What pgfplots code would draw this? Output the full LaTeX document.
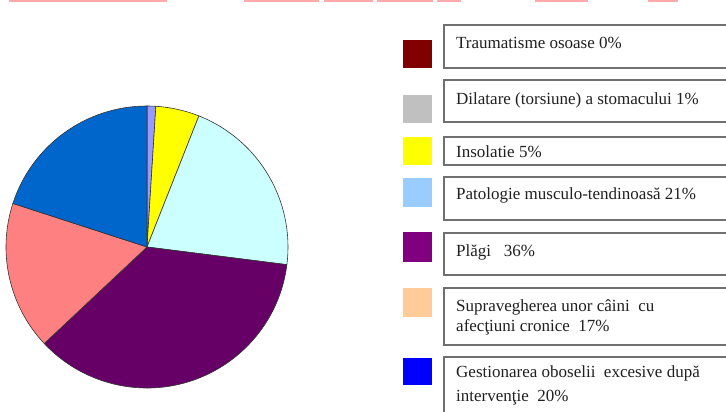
\documentclass[border=0pt]{standalone}
\usepackage{pgfplots}
\pgfplotsset{compat=1.18}
\usepackage{pgfplotstable}
\usepackage{fontspec}
\setmainfont{Liberation Serif}

% pie data (percent), in drawing order clockwise from 12 o'clock
\pgfplotstableread{
idx value
0 0
1 1
2 5
3 21
4 36
5 17
6 20
}\piedata

\definecolor{piecol0}{HTML}{800000}
\definecolor{piecol1}{HTML}{9999FF}
\definecolor{piecol2}{HTML}{FFFF00}
\definecolor{piecol3}{HTML}{CCFFFF}
\definecolor{piecol4}{HTML}{660066}
\definecolor{piecol5}{HTML}{FF8080}
\definecolor{piecol6}{HTML}{0066CC}

\definecolor{leg1}{HTML}{800000}
\definecolor{leg2}{HTML}{C0C0C0}
\definecolor{leg3}{HTML}{FFFF00}
\definecolor{leg4}{HTML}{99CCFF}
\definecolor{leg5}{HTML}{800080}
\definecolor{leg6}{HTML}{FFCC99}
\definecolor{leg7}{HTML}{0000FF}
\definecolor{boxgray}{HTML}{707070}
\definecolor{faintred}{HTML}{FFAAAA}
\definecolor{txt}{HTML}{202020}

\begin{document}
\begin{tikzpicture}
\useasboundingbox (0,0) rectangle (726pt,412pt);
% cut-off line of text at top
\foreach \a/\b in {9/167,244/319,324/373,377/433,437/461,535/588,648/678}{
  \draw[faintred, line width=2.5pt] (\a pt,411pt) -- (\b pt,411pt);
}
\begin{axis}[at={(147pt,165pt)}, anchor=center, hide axis, x=141pt, y=141pt,
  xmin=-1.05, xmax=1.05, ymin=-1.05, ymax=1.05, clip=false]
\xdef\cum{0}
\pgfplotsinvokeforeach{0,...,6}{
  \pgfplotstablegetelem{#1}{value}\of\piedata
  \pgfmathsetmacro{\va}{90-3.6*\cum}
  \pgfmathsetmacro{\vb}{90-3.6*(\cum+\pgfplotsretval)}
  \pgfmathparse{\cum+\pgfplotsretval}\xdef\cum{\pgfmathresult}
  \edef\dofill{\noexpand\filldraw[fill=piecol#1, draw=black!80, line width=0.6pt, line join=round] (axis cs:0,0) -- (axis cs:{cos(\va)},{sin(\va)}) arc[start angle=\va, end angle=\vb, radius=141pt] -- cycle;}
  \dofill
}
\end{axis}

% legend
\tikzset{bx/.style={draw=boxgray, line width=1.3pt, fill=white}}
\fill[leg1] (403pt,344pt) rectangle (432pt,372pt);
\fill[leg2] (403pt,289pt) rectangle (432pt,317pt);
\fill[leg3] (403pt,247pt) rectangle (432pt,275pt);
\fill[leg4] (403pt,205pt) rectangle (432pt,234pt);
\fill[leg5] (403pt,150pt) rectangle (432pt,180pt);
\fill[leg6] (403pt,95pt) rectangle (432pt,124pt);
\fill[leg7] (403pt,27pt) rectangle (432pt,54pt);

\draw[bx] (444pt,344pt) rectangle (745pt,387pt);
\draw[bx] (444pt,290pt) rectangle (745pt,332pt);
\draw[bx] (444pt,247pt) rectangle (745pt,275pt);
\draw[bx] (444pt,192pt) rectangle (745pt,235pt);
\draw[bx] (444pt,137pt) rectangle (745pt,179pt);
\draw[bx] (444pt,67pt) rectangle (745pt,124pt);
\draw[bx] (444pt,-10pt) rectangle (745pt,55pt);

\begin{scope}[every node/.style={anchor=base west, inner sep=0pt, text=txt, font=\fontsize{17}{20}\selectfont}]
\node at (456pt,363pt) {Traumatisme osoase 0\%};
\node at (456pt,307pt) {Dilatare (torsiune) a stomacului\ 1\%};
\node at (456pt,254pt) {Insolatie 5\%};
\node at (456pt,212pt) {Patologie musculo-tendinoasă 21\%};
\node at (456pt,155pt) {Plăgi\ \ \ 36\%};
\node at (456pt,100pt) {Supravegherea unor câini\ \ cu};
\node at (456pt,80pt) {afecţiuni cronice\ \ 17\%};
\node at (456pt,34pt) {Gestionarea oboselii\ \ excesive după};
\node at (456pt,10pt) {intervenţie\ \ 20\%};
\end{scope}
\end{tikzpicture}
\end{document}
